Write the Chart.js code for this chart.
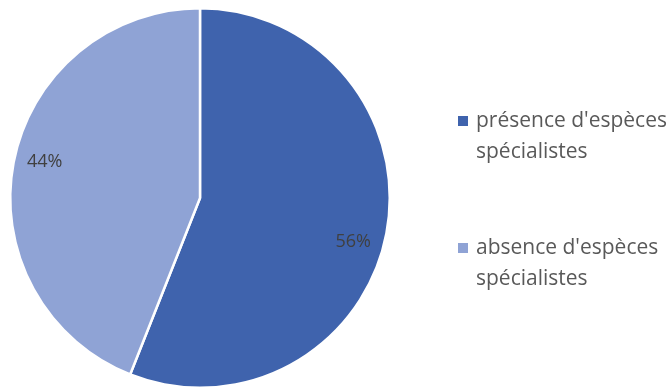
<!DOCTYPE html>
<html>
<head>
<meta charset="utf-8">
<script src="https://cdn.jsdelivr.net/npm/chart.js@4"></script>
<style>
  html, body { margin: 0; padding: 0; background: #fff; }
  #wrap { width: 670px; height: 389px; position: relative; }
</style>
</head>
<body>
<div id="wrap"><canvas id="chart"></canvas></div>
<script>
const categories = [
  ["présence d'espèces", "spécialistes"],
  ["absence d'espèces", "spécialistes"]
];
const values = [56, 44];
const pctLabels = ["56%", "44%"];
const colors = ["#3F63AD", "#8FA3D5"];

// étiquettes de pourcentage dans les parts
const sliceLabels = {
  id: "sliceLabels",
  afterDatasetsDraw(chart) {
    const ctx = chart.ctx;
    const meta = chart.getDatasetMeta(0);
    ctx.save();
    ctx.font = "18px 'Open Sans'";
    ctx.fillStyle = "#404040";
    ctx.textAlign = "center";
    ctx.textBaseline = "middle";
    meta.data.forEach((arc, i) => {
      const mid = (arc.startAngle + arc.endAngle) / 2 + (i === 0 ? 0.09 : 0.04);
      const r = arc.outerRadius * 0.84;
      ctx.fillText(pctLabels[i], arc.x + Math.cos(mid) * r, arc.y + Math.sin(mid) * r);
    });
    ctx.restore();
  }
};

// légende à droite, sur deux lignes
const sideLegend = {
  id: "sideLegend",
  afterDraw(chart) {
    const ctx = chart.ctx;
    const x0 = 458, tops = [121, 248], lineH = 31;
    ctx.save();
    ctx.font = "21px 'Open Sans'";
    ctx.textBaseline = "middle";
    categories.forEach((lines, i) => {
      ctx.fillStyle = colors[i];
      ctx.fillRect(x0, tops[i] - 5, 10, 10);
      ctx.fillStyle = "#595959";
      lines.forEach((t, j) => ctx.fillText(t, x0 + 18, tops[i] + j * lineH));
    });
    ctx.restore();
  }
};

new Chart(document.getElementById("chart"), {
  type: "pie",
  data: {
    labels: categories.map(c => c.join(" ")),
    datasets: [{
      data: values,
      backgroundColor: colors,
      borderColor: "#ffffff",
      borderWidth: 2.5
    }]
  },
  options: {
    responsive: true,
    maintainAspectRatio: false,
    animation: false,
    layout: { padding: { left: 8, right: 278, top: 7, bottom: 0 } },
    plugins: {
      legend: { display: false },
      tooltip: { enabled: false }
    }
  },
  plugins: [sliceLabels, sideLegend]
});
</script>
</body>
</html>
